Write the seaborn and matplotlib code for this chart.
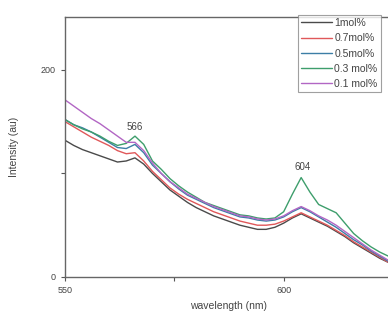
import matplotlib
matplotlib.use("Agg")
import matplotlib.pyplot as plt
from matplotlib.ticker import FixedLocator
import numpy as np
import pandas as pd
import seaborn as sns

# wavelength grid (nm) and intensities
wavelength = list(range(550, 626, 2))

i_1mol = [132, 127, 123, 120, 117, 114, 111, 112, 115, 109, 100, 92, 84, 78, 72, 67, 63, 59, 56,
          53, 50, 48, 46, 46, 48, 52, 57, 61, 57, 53, 49, 44, 39, 33, 28, 23, 18, 14]
i_07mol = [150, 145, 140, 135, 131, 127, 122, 119, 120, 112, 102, 94, 86, 80, 75, 71, 67, 63, 60,
           57, 54, 52, 50, 50, 51, 54, 58, 62, 58, 54, 50, 45, 40, 34, 29, 24, 19, 14]
i_05mol = [152, 147, 144, 140, 135, 130, 125, 124, 128, 120, 108, 100, 92, 85, 79, 75, 71, 67, 64,
           61, 58, 57, 55, 54, 55, 58, 63, 67, 63, 58, 53, 48, 42, 36, 31, 25, 20, 15]
i_03mol = [152, 147, 143, 140, 136, 131, 127, 129, 136, 128, 112, 104, 95, 88, 82, 77, 72, 69, 66,
           63, 60, 59, 57, 56, 57, 63, 80, 96, 82, 70, 66, 62, 52, 42, 35, 29, 24, 20]
i_01mol = [171, 165, 159, 153, 148, 142, 136, 130, 130, 122, 110, 100, 92, 86, 80, 76, 72, 68, 65,
           62, 59, 58, 56, 55, 56, 59, 64, 68, 64, 59, 55, 50, 44, 38, 32, 26, 21, 16]

labels = ["1mol%", "0.7mol%", "0.5mol%", "0.3 mol%", "0.1 mol%"]
colors = ["#4a4a4a", "#e0585a", "#3c7ea6", "#3e9e6c", "#b266c4"]

series = [i_1mol, i_07mol, i_05mol, i_03mol, i_01mol]
df = pd.concat(
    [pd.DataFrame({"wavelength": wavelength, "intensity": s, "sample": lab})
     for s, lab in zip(series, labels)],
    ignore_index=True,
)

sns.set_style("ticks")
plt.rcParams["font.family"] = ["Liberation Sans", "DejaVu Sans"]

fig = plt.figure(figsize=(3.88, 3.2), dpi=100)
ax = fig.add_axes([65 / 388, 43 / 320, 328 / 388, 260 / 320])

sns.lineplot(data=df, x="wavelength", y="intensity", hue="sample", hue_order=labels,
             palette=colors, linewidth=1.0, ax=ax, legend=True)

ax.set_xlim(550, 625)
ax.set_ylim(0, 251)
ax.xaxis.set_major_locator(FixedLocator([550, 600]))
ax.xaxis.set_minor_locator(FixedLocator([575, 625]))
ax.yaxis.set_major_locator(FixedLocator([0, 200]))
ax.yaxis.set_minor_locator(FixedLocator([100]))
ax.tick_params(which="both", labelsize=6.5, colors="#555555", length=3, width=0.8,
               direction="out")
for lab in ax.get_xticklabels() + ax.get_yticklabels():
    lab.set_color("#444444")
for sp in ax.spines.values():
    sp.set_color("#666666")
    sp.set_linewidth(1.0)

ax.set_xlabel("wavelength (nm)", fontsize=7.5, color="#444444", labelpad=4)
ax.set_ylabel("Intensity (au)", fontsize=7.5, color="#444444", labelpad=16)

ax.text(566, 140, "566", fontsize=7, color="#444444", ha="center", va="bottom")
ax.text(604.3, 101, "604", fontsize=7, color="#444444", ha="center", va="bottom")

leg = ax.legend(loc="upper left", bbox_to_anchor=(298 / 388, 1 - 15 / 320),
                bbox_transform=fig.transFigure, fontsize=7.5, frameon=True,
                fancybox=False, handlelength=3.0, handletextpad=0.2,
                labelspacing=0.5, borderpad=0.3, borderaxespad=0)
leg.get_frame().set_edgecolor("#888888")
leg.get_frame().set_linewidth(0.8)
for t in leg.get_texts():
    t.set_color("#444444")

fig.savefig("out.png", dpi=100)
